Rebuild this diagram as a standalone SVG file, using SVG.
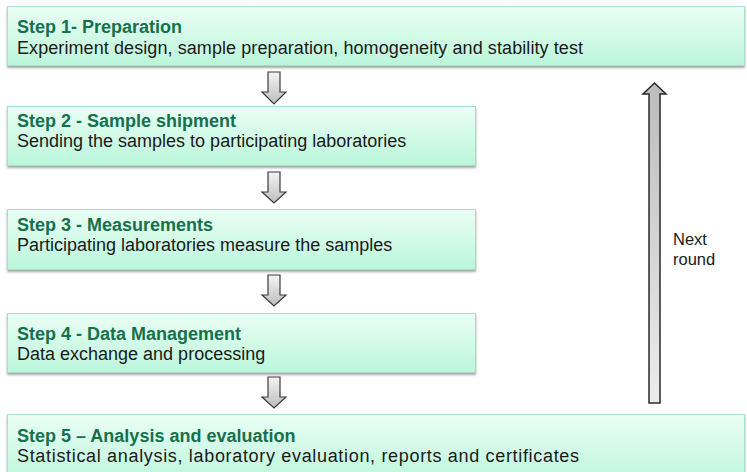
<svg xmlns="http://www.w3.org/2000/svg" width="747" height="472" viewBox="0 0 747 472">
<defs>
<linearGradient id="boxg" x1="0" y1="0" x2="0" y2="1">
<stop offset="0" stop-color="#ebfef5"/>
<stop offset="1" stop-color="#baf6da"/>
</linearGradient>
<linearGradient id="downg" x1="0" y1="0" x2="0" y2="1">
<stop offset="0" stop-color="#f4f4f4"/>
<stop offset="1" stop-color="#bdbdbd"/>
</linearGradient>
<linearGradient id="upg" x1="0" y1="0" x2="0" y2="1">
<stop offset="0" stop-color="#bcbcbc"/>
<stop offset="1" stop-color="#ececec"/>
</linearGradient>
<filter id="sh" x="-5%" y="-20%" width="110%" height="150%">
<feGaussianBlur in="SourceAlpha" stdDeviation="1"/>
<feOffset dy="1.5"/>
<feComponentTransfer><feFuncA type="linear" slope="0.35"/></feComponentTransfer>
<feMerge><feMergeNode/><feMergeNode in="SourceGraphic"/></feMerge>
</filter>
</defs>
<style>
.box{fill:url(#boxg);stroke:#a9dccb;stroke-width:1;filter:url(#sh)}
.t{font-family:"Liberation Sans",Arial,sans-serif;font-size:18px;font-weight:bold;fill:#17704c}
.s{font-family:"Liberation Sans",Arial,sans-serif;font-size:18px;fill:#1a1a1a}
.darr{fill:url(#downg);stroke:#3a3a3a;stroke-width:1.2;stroke-linejoin:miter}
.uarr{fill:url(#upg);stroke:#2a2a2a;stroke-width:1.5}
.lbl{font-family:"Liberation Sans",Arial,sans-serif;font-size:16.5px;fill:#1a1a1a}
</style>
<rect width="747" height="472" fill="#ffffff"/>
<g id="step1">
<rect class="box" x="7.5" y="6.5" width="737" height="59"/>
<text class="t" x="17" y="33">Step 1- Preparation</text>
<text class="s" x="17" y="54" textLength="566" lengthAdjust="spacing">Experiment design, sample preparation, homogeneity and stability test</text>
</g>
<g id="step2">
<rect class="box" x="7.5" y="106.5" width="468" height="59"/>
<text class="t" x="17" y="127">Step 2 - Sample shipment</text>
<text class="s" x="17" y="147">Sending the samples to participating laboratories</text>
</g>
<g id="step3">
<rect class="box" x="7.5" y="209.5" width="468" height="60"/>
<text class="t" x="17" y="231">Step 3 - Measurements</text>
<text class="s" x="17" y="251">Participating laboratories measure the samples</text>
</g>
<g id="step4">
<rect class="box" x="7.5" y="313.5" width="468" height="59"/>
<text class="t" x="17" y="340">Step 4 - Data Management</text>
<text class="s" x="17" y="360">Data exchange and processing</text>
</g>
<g id="step5">
<rect class="box" x="7.5" y="414.5" width="737" height="70"/>
<text class="t" x="17" y="442">Step 5 – Analysis and evaluation</text>
<text class="s" x="17" y="462" textLength="562" lengthAdjust="spacing">Statistical analysis, laboratory evaluation, reports and certificates</text>
</g>
<g id="connectors">
<path class="darr" d="M268 72 H280 V92 H286 L274 104 L262 92 H268 Z"/>
<path class="darr" d="M268 172 H280 V192 H286 L274 203 L262 192 H268 Z"/>
<path class="darr" d="M268 275 H280 V295 H286 L274 306 L262 295 H268 Z"/>
<path class="darr" d="M268 377 H280 V397 H286 L274 408 L262 397 H268 Z"/>
<path class="uarr" d="M649 403 V94 H643 L654.5 83 L666 94 H660 V403 Z"/>
</g>
<g id="next-round">
<text class="lbl" x="673" y="245">Next</text>
<text class="lbl" x="673" y="265">round</text>
</g>
</svg>
